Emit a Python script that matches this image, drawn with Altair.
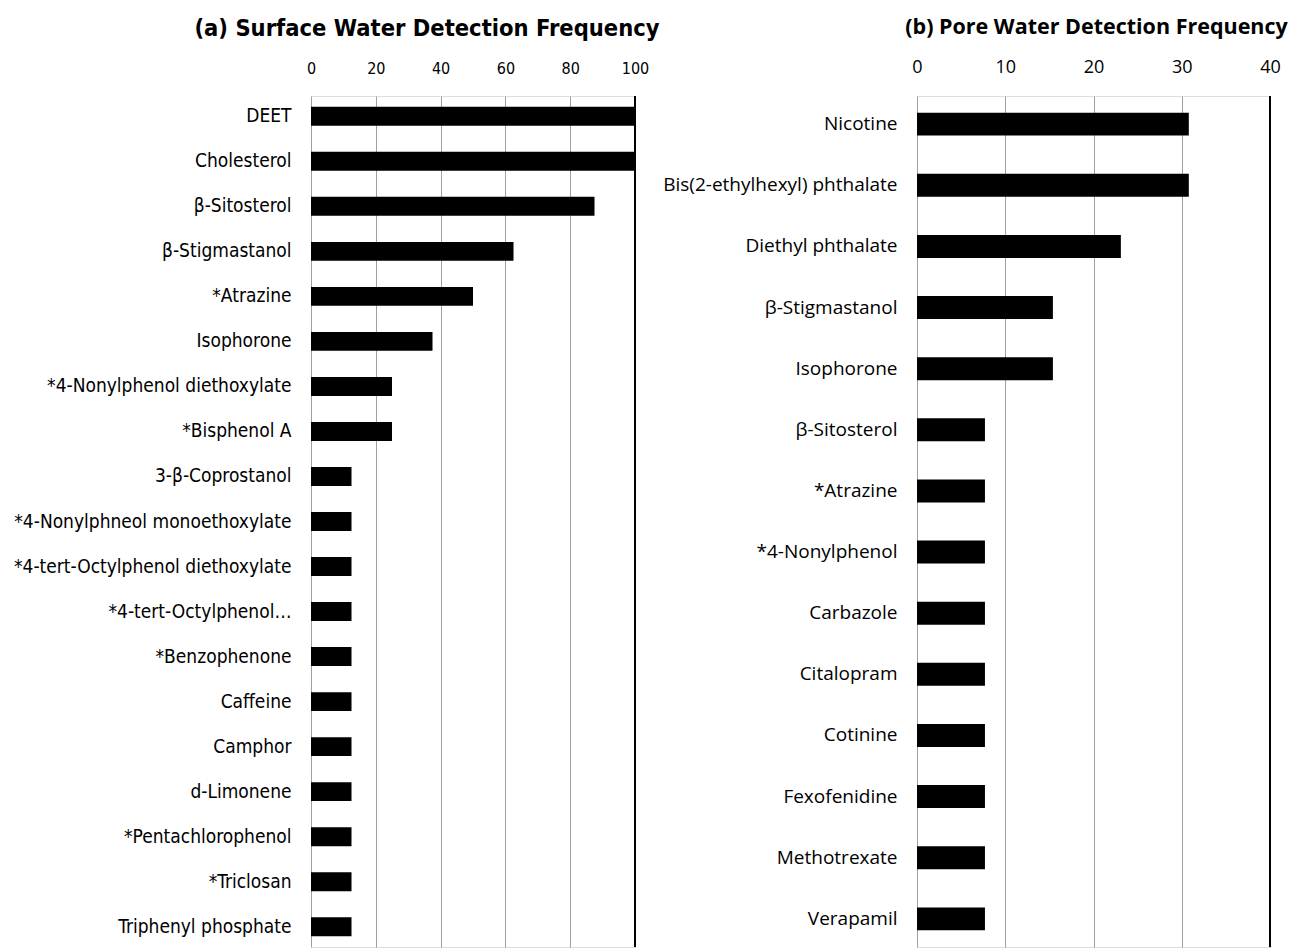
import altair as alt
import pandas as pd

# Surface water: detection frequency (%) per compound
surface_names = [
    "DEET", "Cholesterol", "β-Sitosterol", "β-Stigmastanol", "*Atrazine",
    "Isophorone", "*4-Nonylphenol diethoxylate", "*Bisphenol A",
    "3-β-Coprostanol", "*4-Nonylphneol monoethoxylate",
    "*4-tert-Octylphenol diethoxylate", "*4-tert-Octylphenol…",
    "*Benzophenone", "Caffeine", "Camphor", "d-Limonene",
    "*Pentachlorophenol", "*Triclosan", "Triphenyl phosphate",
]
surface_freq = [100, 100, 87.5, 62.5, 50, 37.5, 25, 25,
                12.5, 12.5, 12.5, 12.5, 12.5, 12.5, 12.5, 12.5, 12.5, 12.5, 12.5]

# Pore water: detection frequency (%) per compound
pore_names = [
    "Nicotine", "Bis(2-ethylhexyl) phthalate", "Diethyl phthalate",
    "β-Stigmastanol", "Isophorone", "β-Sitosterol", "*Atrazine",
    "*4-Nonylphenol", "Carbazole", "Citalopram", "Cotinine",
    "Fexofenidine", "Methotrexate", "Verapamil",
]
pore_freq = [30.8, 30.8, 23.1, 15.4, 15.4, 7.7, 7.7,
             7.7, 7.7, 7.7, 7.7, 7.7, 7.7, 7.7]

surface_ticks = [0, 20, 40, 60, 80, 100]
pore_ticks = [0, 10, 20, 30, 40]

surface_df = pd.DataFrame({"compound": surface_names, "freq": surface_freq})
pore_df = pd.DataFrame({"compound": pore_names, "freq": pore_freq})

GRID = "#a0a0a0"
PLOT_H = 851
NARROW = "'DejaVu Sans Condensed', Roboto, sans-serif"
WIDE = "'Open Sans', sans-serif"


def panel(df, names, ticks, xmax, title, font, label_size, tick_size,
          title_font, title_size, title_dx, width, pad_inner, pad_outer):
    x = alt.X(
        "freq:Q",
        scale=alt.Scale(domain=[0, xmax], nice=False),
        axis=alt.Axis(
            orient="top", values=ticks, title=None, ticks=False, domain=False,
            grid=True, gridColor=GRID, gridWidth=1,
            labelFont=font, labelFontSize=tick_size, labelColor="#000000",
            labelPadding=20, labelFlush=False,
        ),
    )
    y = alt.Y(
        "compound:N", sort=names, title=None,
        scale=alt.Scale(paddingInner=pad_inner, paddingOuter=pad_outer),
        axis=alt.Axis(
            ticks=False, domain=False, labelFont=font,
            labelFontSize=label_size, labelColor="#000000",
            labelPadding=20, labelLimit=400,
        ),
    )
    bars = alt.Chart(df).mark_bar(color="#000000").encode(x=x, y=y)
    edge = alt.Chart(df).mark_rule(color="#000000", strokeWidth=1.5).encode(
        x=alt.datum(xmax)
    )
    return alt.layer(bars, edge).properties(
        width=width, height=PLOT_H,
        title=alt.TitleParams(
            title, font=title_font, fontSize=title_size, fontWeight="bold",
            color="#000000", anchor="middle", dx=title_dx, offset=20,
        ),
    )


left = panel(surface_df, surface_names, surface_ticks, 100,
             "(a) Surface Water Detection Frequency",
             NARROW, 19, 16, NARROW, 23.5, -46, 324, 0.58, 0.24)
right = panel(pore_df, pore_names, pore_ticks, 40,
              "(b) Pore Water Detection Frequency",
              WIDE, 19, 18, WIDE, 21.5, 3, 353, 0.624, 0.272)

chart = alt.hconcat(left, right, spacing=282, bounds="flush").configure_view(
    stroke=GRID, strokeWidth=1
).configure(background="#ffffff").properties(
    padding={"left": 12, "top": 16, "right": 0, "bottom": 0}
)

chart.save("out.html", embed_options={"renderer": "svg", "actions": False})
